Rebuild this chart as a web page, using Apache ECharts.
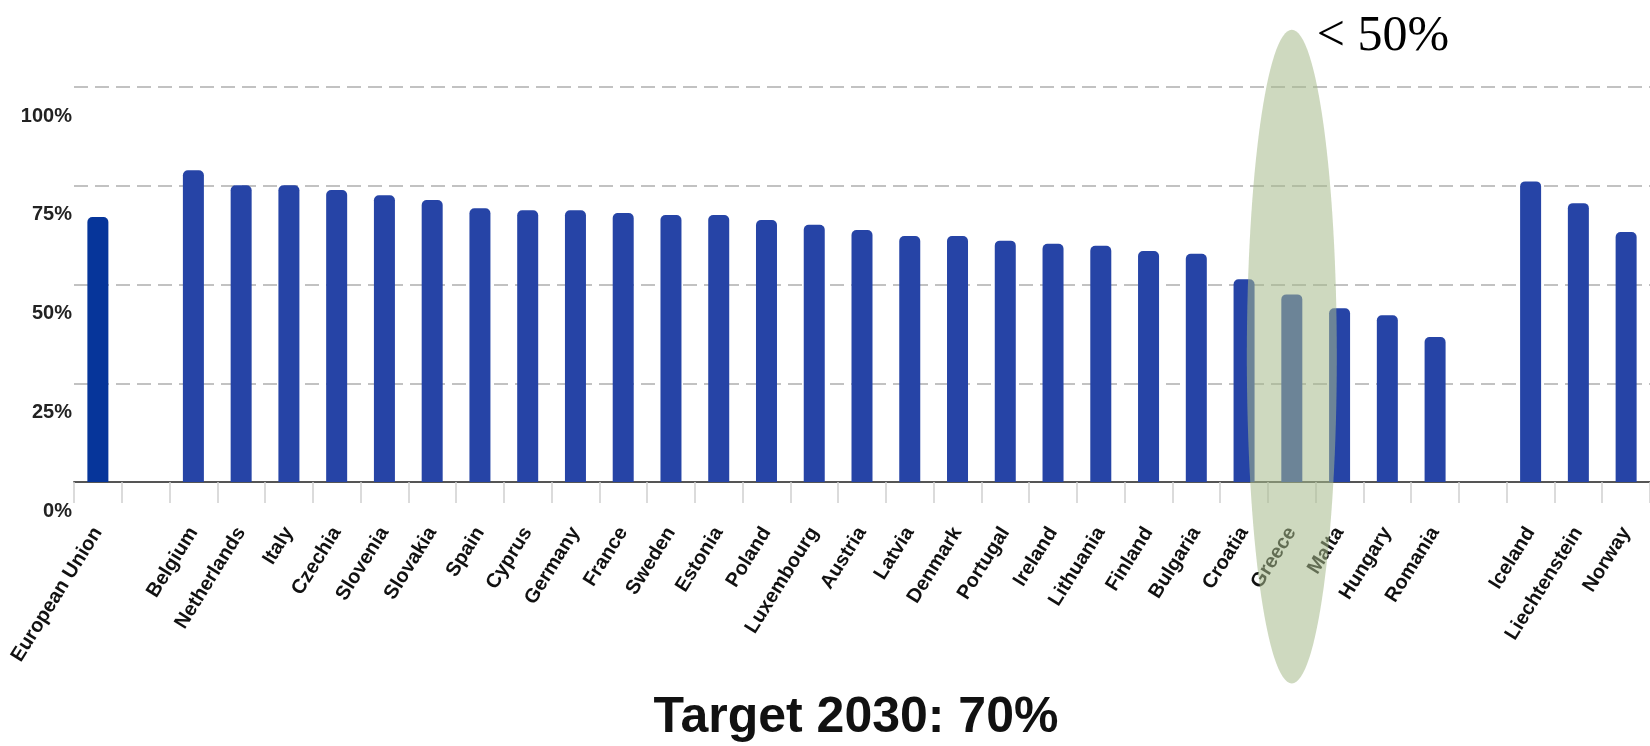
<!DOCTYPE html>
<html><head><meta charset="utf-8">
<script src="https://cdn.jsdelivr.net/npm/echarts@6/dist/echarts.min.js"></script>
<style>html,body{margin:0;padding:0;background:#fff}#c{width:1650px;height:746px}</style>
</head><body><div id="c"></div>
<script>
// ---- data ----
const categories = ['European Union', '', 'Belgium', 'Netherlands', 'Italy', 'Czechia', 'Slovenia', 'Slovakia', 'Spain', 'Cyprus', 'Germany', 'France', 'Sweden', 'Estonia', 'Poland', 'Luxembourg', 'Austria', 'Latvia', 'Denmark', 'Portugal', 'Ireland', 'Lithuania', 'Finland', 'Bulgaria', 'Croatia', 'Greece', 'Malta', 'Hungary', 'Romania', '', 'Iceland', 'Liechtenstein', 'Norway'];
const values = [67.1, null, 78.9, 75.1, 75.1, 73.9, 72.6, 71.4, 69.3, 68.8, 68.8, 68.1, 67.6, 67.6, 66.3, 65.1, 63.8, 62.3, 62.3, 61.1, 60.3, 59.8, 58.5, 57.8, 51.3, 47.5, 44.0, 42.2, 36.7, null, 76.1, 70.6, 63.3];
const yTickValues = [0, 25, 50, 75, 100];
const aggregateName = 'European Union';
const highlightName = 'Greece';
const highlightRange = [-51, 114.5];   // value span covered by the highlight ellipse
const titleText = 'Target 2030: 70%';
const noteText = '< 50%';

const chart = echarts.init(document.getElementById('c'), null, {renderer: 'canvas'});
const sans = '"Liberation Sans", Arial, sans-serif';

const barData = values.map((v, i) => ({
  value: v,
  itemStyle: { color: categories[i] === aggregateName ? '#06359a' : '#2644a6' }
}));

chart.setOption({
  animation: false,
  backgroundColor: '#fff',
  title: {
    text: titleText,
    left: 851, top: 688, textAlign: 'center',
    textStyle: { fontFamily: sans, fontWeight: 'bold', fontSize: 50, color: '#111' }
  },
  grid: { left: 74, right: -6, top: 87, bottom: 264, containLabel: false },
  xAxis: {
    type: 'category',
    data: categories,
    axisLine: { show: true, lineStyle: { color: '#555', width: 2 } },
    axisTick: { show: true, interval: 0, length: 21, lineStyle: { color: '#cfcfcf', width: 1.5 } },
    axisLabel: {
      interval: 0, rotate: 58, margin: 47,
      fontFamily: sans, fontWeight: 'bold', fontSize: 20, color: '#111'
    }
  },
  yAxis: {
    type: 'value', min: yTickValues[0], max: yTickValues[yTickValues.length - 1], interval: 25,
    axisLine: { show: false }, axisTick: { show: false },
    splitLine: { show: true, lineStyle: { color: '#c2c2c2', width: 2, type: [14, 7] } },
    axisLabel: {
      formatter: v => '\n\n' + v + '%', margin: 2, lineHeight: 29,
      fontFamily: sans, fontWeight: 'bold', fontSize: 20, color: '#222'
    }
  },
  series: [{
    type: 'bar', data: barData, barWidth: 21,
    itemStyle: { borderRadius: [5, 5, 0, 0] }
  }]
});

// highlight ellipse and note, positioned through the chart's own scales
const hi = categories.indexOf(highlightName);
const cx = chart.convertToPixel({ xAxisIndex: 0 }, hi);
const yTop = chart.convertToPixel({ yAxisIndex: 0 }, highlightRange[1]);
const yBot = chart.convertToPixel({ yAxisIndex: 0 }, highlightRange[0]);
chart.setOption({
  graphic: [
    {
      type: 'ellipse', z: 100,
      shape: { cx: cx, cy: (yTop + yBot) / 2, rx: 45, ry: (yBot - yTop) / 2 },
      style: { fill: 'rgba(166,186,138,0.55)' }
    },
    {
      type: 'text', z: 101,
      style: {
        text: noteText, x: cx + 25, y: yTop + 7,
        font: '50px "Liberation Serif", "DejaVu Serif", serif',
        fill: '#000', align: 'left', verticalAlign: 'middle'
      }
    }
  ]
});
</script></body></html>
